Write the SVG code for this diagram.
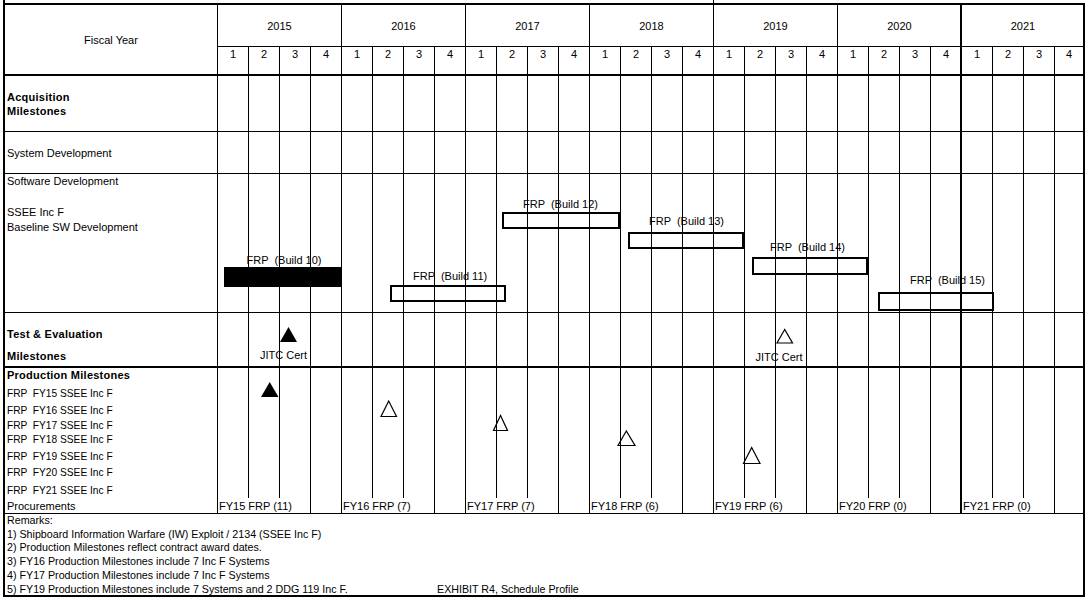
<svg xmlns="http://www.w3.org/2000/svg" width="1088" height="600" viewBox="0 0 1088 600">
<style>
text{font-family:"Liberation Sans",Arial,sans-serif;font-size:11px;fill:#000;white-space:pre}
.b{font-weight:bold;letter-spacing:0.25px}
.m{text-anchor:middle}
.r{font-size:10.2px}
.k{font-size:10.7px}
.g{stroke:#000;stroke-width:1;fill:none}
.t{stroke:#000;stroke-width:2;fill:none}
.bar{fill:none;stroke:#000;stroke-width:2}
.hol{fill:none;stroke:#000;stroke-width:1.2;stroke-linejoin:miter}
</style>
<rect x="0" y="0" width="1088" height="600" fill="#fff"/>
<g id="header-text">
<text class="m" x="111" y="43.5">Fiscal Year</text>
<text class="m" x="279.5" y="30">2015</text>
<text class="m" x="403.5" y="30">2016</text>
<text class="m" x="527.5" y="30">2017</text>
<text class="m" x="651.5" y="30">2018</text>
<text class="m" x="775.5" y="30">2019</text>
<text class="m" x="899.5" y="30">2020</text>
<text class="m" x="1023" y="30">2021</text>
<g>
<text class="m" x="233" y="57.5">1</text><text class="m" x="264" y="57.5">2</text><text class="m" x="295" y="57.5">3</text><text class="m" x="326" y="57.5">4</text>
<text class="m" x="357" y="57.5">1</text><text class="m" x="388" y="57.5">2</text><text class="m" x="419" y="57.5">3</text><text class="m" x="450" y="57.5">4</text>
<text class="m" x="481" y="57.5">1</text><text class="m" x="512" y="57.5">2</text><text class="m" x="543" y="57.5">3</text><text class="m" x="574" y="57.5">4</text>
<text class="m" x="605" y="57.5">1</text><text class="m" x="636" y="57.5">2</text><text class="m" x="667" y="57.5">3</text><text class="m" x="698" y="57.5">4</text>
<text class="m" x="729" y="57.5">1</text><text class="m" x="760" y="57.5">2</text><text class="m" x="791" y="57.5">3</text><text class="m" x="822" y="57.5">4</text>
<text class="m" x="853" y="57.5">1</text><text class="m" x="884" y="57.5">2</text><text class="m" x="915" y="57.5">3</text><text class="m" x="946" y="57.5">4</text>
<text class="m" x="977" y="57.5">1</text><text class="m" x="1008" y="57.5">2</text><text class="m" x="1039" y="57.5">3</text><text class="m" x="1069" y="57.5">4</text>
</g>
</g>
<g id="row-labels">
<text class="b" x="7" y="101">Acquisition</text>
<text class="b" x="7" y="115">Milestones</text>
<text x="7" y="157">System Development</text>
<text x="7" y="185">Software Development</text>
<text x="7" y="216">SSEE Inc F</text>
<text x="7" y="231">Baseline SW Development</text>
<text class="b" x="7" y="337.5">Test &amp; Evaluation</text>
<text class="b" x="7" y="360">Milestones</text>
<text class="b" x="7" y="378.5">Production Milestones</text>
<text class="r" x="7" y="397">FRP  FY15 SSEE Inc F</text>
<text class="r" x="7" y="413.5">FRP  FY16 SSEE Inc F</text>
<text class="r" x="7" y="429">FRP  FY17 SSEE Inc F</text>
<text class="r" x="7" y="442.5">FRP  FY18 SSEE Inc F</text>
<text class="r" x="7" y="459.5">FRP  FY19 SSEE Inc F</text>
<text class="r" x="7" y="476">FRP  FY20 SSEE Inc F</text>
<text class="r" x="7" y="493.5">FRP  FY21 SSEE Inc F</text>
<text x="7" y="510">Procurements</text>
</g>
<g id="bar-labels">
<text x="246.5" y="263.5">FRP  (Build 10)</text>
<text x="413" y="280">FRP  (Build 11)</text>
<text x="523" y="207.5">FRP  (Build 12)</text>
<text x="649" y="225">FRP  (Build 13)</text>
<text x="770" y="251">FRP  (Build 14)</text>
<text x="910" y="284">FRP  (Build 15)</text>
<text x="260" y="358.5">JITC Cert</text>
<text x="755.5" y="360.5">JITC Cert</text>
</g>
<g id="procurements">
<text x="219" y="510">FY15 FRP (11)</text>
<text x="343" y="510">FY16 FRP (7)</text>
<text x="467" y="510">FY17 FRP (7)</text>
<text x="591" y="510">FY18 FRP (6)</text>
<text x="715" y="510">FY19 FRP (6)</text>
<text x="839" y="510">FY20 FRP (0)</text>
<text x="963" y="510">FY21 FRP (0)</text>
</g>
<g id="remarks">
<text class="k" x="7" y="523.5">Remarks:</text>
<text class="k" x="7" y="537.5">1) Shipboard Information Warfare (IW) Exploit / 2134 (SSEE Inc F)</text>
<text class="k" x="7" y="551">2) Production Milestones reflect contract award dates.</text>
<text class="k" x="7" y="565">3) FY16 Production Milestones include 7 Inc F Systems</text>
<text class="k" x="7" y="579">4) FY17 Production Milestones include 7 Inc F Systems</text>
<text class="k" x="7" y="592.5">5) FY19 Production Milestones include 7 Systems and 2 DDG 119 Inc F.</text>
<text class="k" x="437" y="592.5">EXHIBIT R4, Schedule Profile</text>
</g>
<g id="grid">
<path class="g" d="M248.5 46V498M279.5 46V498M372.5 46V498M403.5 46V498M496.5 46V498M527.5 46V498M620.5 46V498M651.5 46V498M744.5 46V498M775.5 46V498M868.5 46V498M899.5 46V498M992.5 46V498M1023.5 46V498"/>
<path class="g" d="M310.5 46V513M434.5 46V513M558.5 46V513M682.5 46V513M806.5 46V513M930.5 46V513M1054.5 46V513"/>
<path class="g" d="M217.5 4V513M341.5 4V513M465.5 4V513M589.5 4V513M713.5 0V513M837.5 4V513"/>
<path class="t" d="M961 4V513"/>
<path class="g" d="M217.5 46.5H1084M4 131.5H1084M4 173.5H1084M4 312.5H1084M4 513.5H1084"/>
<path class="t" d="M4 75H1084M4 367H1084"/>
<path class="t" d="M4 0V4"/>
<rect class="t" x="4" y="4" width="1080" height="592"/>
</g>
<g id="sw-builds">
<rect x="224" y="267" width="117" height="20" fill="#000"/>
<rect class="bar" x="391" y="286" width="114" height="15"/>
<rect class="bar" x="503" y="213" width="116" height="15"/>
<rect class="bar" x="629" y="233" width="114" height="15"/>
<rect class="bar" x="753" y="258" width="114" height="16"/>
<rect class="bar" x="879" y="293" width="114" height="17"/>
</g>
<g id="milestones">
<polygon points="288.5,327 280,342 297,342" fill="#000"/>
<polygon class="hol" points="784.7,329.5 777,343 792.5,343"/>
<polygon points="269.7,382 261,397 278.5,397" fill="#000"/>
<polygon class="hol" points="388.7,401 381,416.5 396.5,416.5"/>
<polygon class="hol" points="500.5,415.5 493.5,430.5 507.5,430.5"/>
<polygon class="hol" points="626.3,431 618,445.5 635,445.5"/>
<polygon class="hol" points="751.7,447.5 743.5,463.5 760,463.5"/>
</g>
</svg>
